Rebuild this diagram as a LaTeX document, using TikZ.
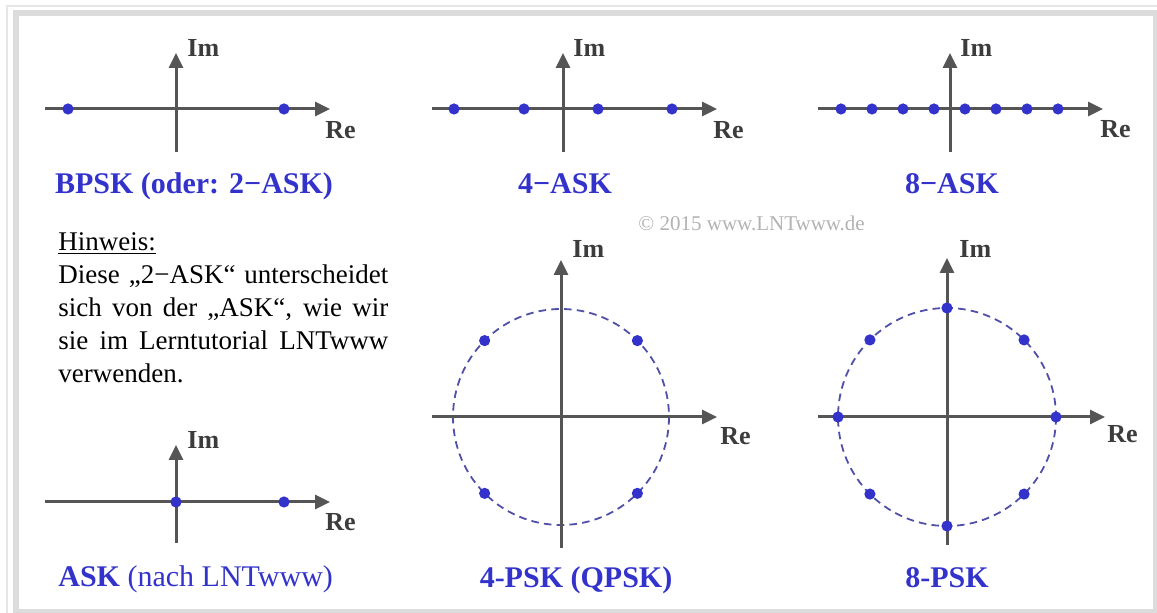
\documentclass[tikz,border=0pt]{standalone}
\usepackage{fontspec}
\setmainfont{Liberation Serif}
\usetikzlibrary{arrows.meta}
\definecolor{axisgray}{HTML}{555555}
\definecolor{labelgray}{HTML}{3C3C3C}
\definecolor{symblue}{HTML}{3333CC}
\definecolor{ringblue}{HTML}{5050A8}
\definecolor{framegray}{HTML}{DCDCDC}
\definecolor{framelight}{HTML}{E6E6E6}
\tikzset{
  cstaxis/.style={draw=axisgray, line width=1.5pt, -{Triangle[length=7.5pt, width=7pt]}},
  cstdot/.style={circle, fill=symblue, inner sep=0pt, minimum size=5.6pt},
  cstring/.style={draw=ringblue, line width=0.9pt, dash pattern=on 3.8pt off 2.6pt},
  cstlabel/.style={font=\fontsize{13}{13}\selectfont\bfseries, text=labelgray, inner sep=0pt, anchor=base west},
  cstname/.style={font=\fontsize{15}{18}\selectfont\bfseries, text=symblue, inner sep=0pt, anchor=base},
  cstnote/.style={font=\fontsize{13.5}{16.5}\selectfont, inner sep=0pt, align=left, anchor=north west},
  cstcopy/.style={font=\fontsize{10.5}{12}\selectfont, text=black!30, inner sep=0pt, anchor=base west},
}
\newcommand{\CstLine}[1]{\makebox[165pt][s]{#1}}

\begin{document}
\begin{tikzpicture}[x=0.5pt, y=-0.5pt]
  \useasboundingbox (0,0) rectangle (1157,613);
  % frame
  \draw[framelight, line width=1pt] (7,613) -- (7,6) -- (1157,6);
  \draw[framegray, line width=3pt] (15.5,13.5) rectangle (1156,612);

  % BPSK
  \coordinate (bpskW) at (45,109);
  \coordinate (bpskE) at (330,109);
  \coordinate (bpskS) at (176,152);
  \coordinate (bpskN) at (176,53);
  \draw[cstaxis] (bpskW) -- (bpskE);
  \draw[cstaxis] (bpskS) -- (bpskN);
  \node[cstlabel] (bpskIm) at (187,57) {Im};
  \node[cstlabel] (bpskRe) at (325,139) {Re};
  \node[cstdot] (bpskA) at (68,109) {};
  \node[cstdot] (bpskB) at (284,109) {};
  \node[cstname] (bpskName) at (194,194) {BPSK (oder: 2−ASK)};

  % 4-ASK
  \coordinate (askfourW) at (432,109);
  \coordinate (askfourE) at (717,109);
  \coordinate (askfourS) at (563,152);
  \coordinate (askfourN) at (563,53);
  \draw[cstaxis] (askfourW) -- (askfourE);
  \draw[cstaxis] (askfourS) -- (askfourN);
  \node[cstlabel] (askfourIm) at (573,57) {Im};
  \node[cstlabel] (askfourRe) at (713,139) {Re};
  \foreach \x [count=\i] in {454,524,598,672}
    \node[cstdot] (askfour\i) at (\x,109) {};
  \node[cstname] (askfourName) at (565,194) {4−ASK};

  % 8-ASK
  \coordinate (askeightW) at (818,109);
  \coordinate (askeightE) at (1103,109);
  \coordinate (askeightS) at (950,152);
  \coordinate (askeightN) at (950,53);
  \draw[cstaxis] (askeightW) -- (askeightE);
  \draw[cstaxis] (askeightS) -- (askeightN);
  \node[cstlabel] (askeightIm) at (960,57) {Im};
  \node[cstlabel] (askeightRe) at (1100,138) {Re};
  \foreach \x [count=\i] in {841,872,903,934,965,996,1027,1058}
    \node[cstdot] (askeight\i) at (\x,109) {};
  \node[cstname] (askeightName) at (952,194) {8−ASK};

  \node[cstcopy] (copy) at (638,231) {© 2015 www.LNTwww.de};

  % Hinweis
  \node[cstnote] (hint) at (58,232) {\underline{Hinweis:}\\
    \CstLine{Diese „2−ASK“ unterscheidet}\\
    \CstLine{sich von der „ASK“, wie wir}\\
    \CstLine{sie im Lerntutorial LNTwww}\\
    verwenden.};

  % ASK (LNTwww)
  \coordinate (askW) at (45,502);
  \coordinate (askE) at (330,502);
  \coordinate (askS) at (176,543);
  \coordinate (askN) at (176,445);
  \draw[cstaxis] (askW) -- (askE);
  \draw[cstaxis] (askS) -- (askN);
  \node[cstlabel] (askIm) at (187,449) {Im};
  \node[cstlabel] (askRe) at (325,531) {Re};
  \node[cstdot] (askA) at (176,502) {};
  \node[cstdot] (askB) at (284,502) {};
  \node[cstname, anchor=base west] (askName) at (58,587) {ASK {\mdseries (nach LNTwww)}};

  % 4-PSK
  \coordinate (qpsk) at (561,417);
  \coordinate (qpskW) at (432,417);
  \coordinate (qpskE) at (717,417);
  \coordinate (qpskS) at (561,548);
  \coordinate (qpskN) at (561,260);
  \draw[cstring] (qpsk) circle[radius=108];
  \draw[cstaxis] (qpskW) -- (qpskE);
  \draw[cstaxis] (qpskS) -- (qpskN);
  \node[cstlabel] (qpskIm) at (572,258) {Im};
  \node[cstlabel] (qpskRe) at (720,445) {Re};
  \foreach \a [count=\i] in {45,135,225,315}
    \node[cstdot] (qpsk\i) at ([shift={(\a:108)}]qpsk) {};
  \node[cstname] (qpskName) at (576,588) {4-PSK (QPSK)};

  % 8-PSK
  \coordinate (epsk) at (947,417);
  \coordinate (epskW) at (818,417);
  \coordinate (epskE) at (1105,417);
  \coordinate (epskS) at (947,545);
  \coordinate (epskN) at (947,258);
  \draw[cstring] (epsk) circle[radius=109];
  \draw[cstaxis] (epskW) -- (epskE);
  \draw[cstaxis] (epskS) -- (epskN);
  \node[cstlabel] (epskIm) at (959,258) {Im};
  \node[cstlabel] (epskRe) at (1107,443) {Re};
  \foreach \a [count=\i] in {0,45,...,315}
    \node[cstdot] (epsk\i) at ([shift={(\a:109)}]epsk) {};
  \node[cstname] (epskName) at (947,588) {8-PSK};
\end{tikzpicture}
\end{document}
